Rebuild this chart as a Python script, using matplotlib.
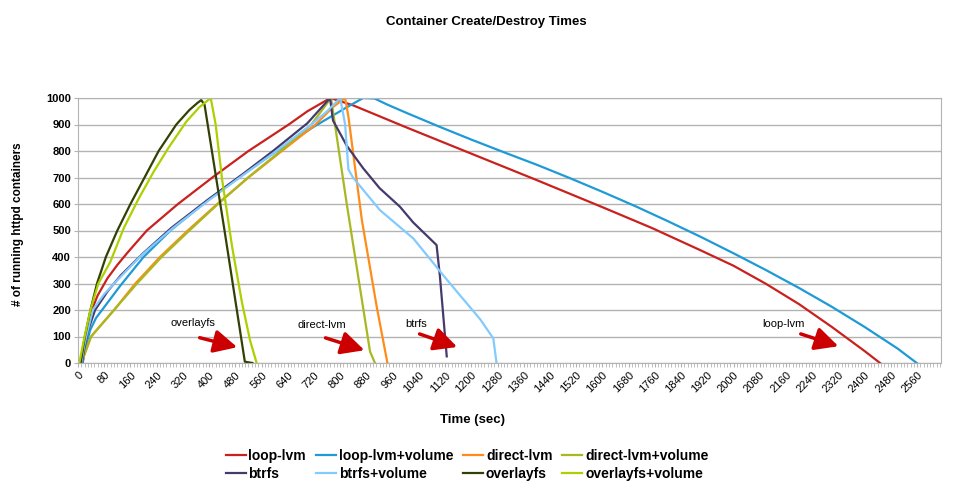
import numpy as np
import matplotlib
matplotlib.use("Agg")
import matplotlib.pyplot as plt
from matplotlib.ticker import MultipleLocator

plt.rcParams['font.family'] = ['Liberation Sans', 'DejaVu Sans']

# Data: seconds vs number of running containers
loop_lvm_t = [14, 22, 30, 42, 60, 90, 120, 150, 210, 305, 410, 520, 643, 700, 770,
              840, 1000, 1200, 1400, 1600, 1750, 1900, 2000, 2100, 2200, 2300, 2400, 2447]
loop_lvm_n = [0, 60, 130, 200, 255, 320, 370, 415, 500, 600, 700, 800, 900, 950, 1000,
              972, 890, 790, 690, 588, 510, 425, 367, 298, 222, 136, 45, 0]

loop_lvm_vol_t = [14, 21, 37, 55, 77, 128, 200, 282, 392, 502, 612, 720, 820, 870, 905, 942,
                  1000, 1100, 1200, 1300, 1400, 1500, 1600, 1700, 1800, 1900, 2000, 2100, 2200,
                  2300, 2400, 2500, 2559]
loop_lvm_vol_n = [0, 49, 124, 170, 206, 290, 400, 500, 610, 710, 805, 892, 965, 1000, 998, 976,
                  945, 893, 843, 795, 748, 698, 646, 592, 535, 476, 414, 350, 283,
                  212, 136, 55, 0]

direct_lvm_t = [10, 25, 40, 110, 175, 250, 335, 425, 520, 622, 725, 779, 815, 825, 866, 911, 944]
direct_lvm_n = [0, 50, 100, 200, 300, 400, 500, 600, 700, 800, 900, 967, 1000, 930, 540, 215, 0]

direct_lvm_vol_t = [10, 25, 40, 110, 180, 255, 340, 427, 519, 618, 712, 772, 820, 891, 906]
direct_lvm_vol_n = [0, 50, 100, 200, 300, 400, 500, 600, 700, 800, 900, 1000, 600, 43, 0]

btrfs_t = [12, 20, 30, 52, 90, 130, 195, 285, 395, 505, 595, 700, 740, 769,
           778, 820, 870, 920, 982, 1023, 1094, 1104, 1125]
btrfs_n = [0, 60, 120, 200, 270, 330, 410, 510, 615, 715, 800, 905, 960, 1000,
           915, 820, 735, 660, 590, 530, 445, 330, 25]

btrfs_vol_t = [10, 18, 25, 45, 80, 118, 192, 290, 400, 510, 605, 712, 760, 800,
               815, 825, 839, 885, 921, 1023, 1125, 1227, 1267, 1277]
btrfs_vol_n = [0, 60, 100, 200, 260, 310, 405, 510, 615, 715, 800, 900, 950, 1000,
               900, 730, 700, 631, 577, 470, 315, 165, 93, 0]

overlayfs_t = [8, 21, 38, 58, 85, 120, 160, 203, 246, 300, 340, 365, 376, 386, 447, 509, 532]
overlayfs_n = [0, 100, 200, 300, 400, 500, 600, 700, 800, 900, 955, 982, 992, 975, 500, 5, 0]

overlayfs_vol_t = [4, 20, 38, 62, 98, 140, 185, 230, 275, 330, 370, 405, 420, 440, 470, 500, 525, 545]
overlayfs_vol_n = [0, 100, 200, 300, 380, 510, 620, 720, 810, 910, 965, 1000, 900, 690, 440, 230, 85, 0]

series = [
    ('loop-lvm', loop_lvm_t, loop_lvm_n, '#c9211e'),
    ('loop-lvm+volume', loop_lvm_vol_t, loop_lvm_vol_n, '#1e9ad6'),
    ('direct-lvm', direct_lvm_t, direct_lvm_n, '#ff8c1a'),
    ('direct-lvm+volume', direct_lvm_vol_t, direct_lvm_vol_n, '#a8b820'),
    ('btrfs', btrfs_t, btrfs_n, '#453a6b'),
    ('btrfs+volume', btrfs_vol_t, btrfs_vol_n, '#83caff'),
    ('overlayfs', overlayfs_t, overlayfs_n, '#314004'),
    ('overlayfs+volume', overlayfs_vol_t, overlayfs_vol_n, '#aecf00'),
]

# arrow labels: (text, text pos, arrow tail, arrow head)
notes = [
    ('overlayfs', (351, 151), (363, 98), (494, 57)),
    ('direct-lvm', (744, 143), (747, 98), (882, 45)),
    ('btrfs', (1031, 147), (1034, 113), (1165, 57)),
    ('loop-lvm', (2151, 147), (2197, 113), (2328, 60)),
]

fig = plt.figure(figsize=(9.54, 4.87), dpi=100)
ax = fig.add_axes([78 / 954, 1 - 363 / 487, (941 - 78) / 954, (363 - 98) / 487])

handles = {}
for name, t, n, col in series:
    line, = ax.plot(t, n, color=col, lw=1.6, label=name)
    handles[name] = line

ax.set_xlim(0, 2633)
ax.set_ylim(0, 1000)
ax.xaxis.set_major_locator(MultipleLocator(80))
ax.xaxis.set_minor_locator(MultipleLocator(10))
ax.yaxis.set_major_locator(MultipleLocator(100))
ax.grid(axis='y', color='#b3b3b3', lw=1)
ax.set_axisbelow(True)
for sp in ax.spines.values():
    sp.set_color('#b3b3b3')
ax.tick_params(axis='x', which='both', direction='out', length=3, color='#b3b3b3', labelsize=8, pad=2)
ax.tick_params(axis='y', direction='out', length=3, color='#b3b3b3', labelsize=8, pad=2)
plt.setp(ax.get_xticklabels(), rotation=45, ha='right', rotation_mode='anchor')
for lab in ax.get_yticklabels():
    lab.set_fontweight('bold')

for txt, tp, tail, head in notes:
    ax.text(tp[0], tp[1], txt, fontsize=8, ha='center', va='center')
    ax.annotate('', xy=head, xytext=tail,
                arrowprops=dict(arrowstyle='-|>,head_length=1.0,head_width=0.5',
                                color='#cc0000', lw=2.5, mutation_scale=14))

fig.text(486 / 954, 1 - 22 / 487, 'Container Create/Destroy Times', fontsize=9.5,
         fontweight='bold', ha='center', va='center')
fig.text(18 / 954, 1 - 224 / 487, '# of running httpd containers', fontsize=8.5,
         fontweight='bold', rotation=90, ha='center', va='center')
fig.text(473 / 954, 1 - 420 / 487, 'Time (sec)', fontsize=9.5, fontweight='bold',
         ha='center', va='center')

order = ['loop-lvm', 'btrfs', 'loop-lvm+volume', 'btrfs+volume',
         'direct-lvm', 'overlayfs', 'direct-lvm+volume', 'overlayfs+volume']
leg = fig.legend([handles[k] for k in order], order, ncol=4, loc='center',
                 bbox_to_anchor=(467 / 954, 1 - 465 / 487), frameon=False,
                 prop={'weight': 'bold', 'size': 10}, handlelength=1.45,
                 handletextpad=0.2, columnspacing=0.7, labelspacing=0.3)

fig.savefig('out.png', dpi=100)
